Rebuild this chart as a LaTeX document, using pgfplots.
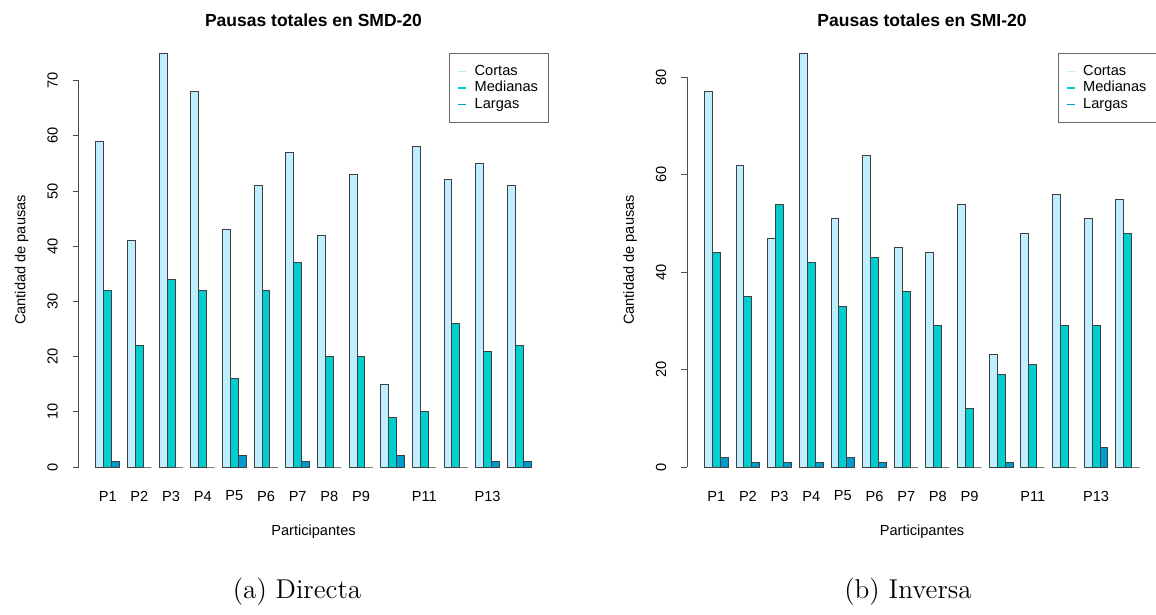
\documentclass[border=0pt]{standalone}
\usepackage{fontspec}
\usepackage{pgfplots}
\usepackage{pgfplotstable}
\pgfplotsset{compat=1.18}
\newfontfamily\rsans{Liberation Sans}
\definecolor{cortas}{RGB}{191,239,255}
\definecolor{medianas}{RGB}{0,205,205}
\definecolor{largas}{RGB}{0,154,205}

\pgfplotstableread{
g c m l
1 59 32 1
2 41 22 0
3 75 34 0
4 68 32 0
5 43 16 2
6 51 32 0
7 57 37 1
8 42 20 0
9 53 20 0
10 15 9 2
11 58 10 0
12 52 26 0
13 55 21 1
14 51 22 1
}\directa

\pgfplotstableread{
g c m l
1 77 44 2
2 62 35 1
3 47 54 1
4 85 42 1
5 51 33 2
6 64 43 1
7 45 36 0
8 44 29 0
9 54 12 0
10 23 19 1
11 48 21 0
12 56 29 0
13 51 29 4
14 55 48 0
}\inversa

\newcommand\rfont{\rsans\fontsize{7.3}{8.5}\selectfont}

\pgfplotsset{
  rbase/.style={
    anchor=south west,
    scale only axis, width=235pt, height=207pt,
    xmin=-1.2, xmax=58.2, ymin=0,
    enlargelimits=false,
    clip=false,
    axis lines*=left,
    axis line style={draw=none},
    tick align=outside,
    major tick length=3pt,
    xtick style={draw=none},
    ytick style={draw=black!70, line width=0.5pt},
    xtick={2.5,6.5,10.5,14.5,18.5,22.5,26.5,30.5,34.5,42.5,50.5},
    xticklabels={P1,P2,P3,P4,P5,P6,P7,P8,P9,P11,P13},
    tick label style={font=\rfont},
    /pgf/number format/assume math mode=true,
    xticklabel style={anchor=center, yshift=-11.5pt},
    yticklabel style={rotate=90, anchor=center, yshift=10pt},
    xlabel={Participantes},
    ylabel={Cantidad de pausas},
    every axis x label/.style={at={(axis description cs:0.5,0)}, anchor=center, yshift=-32.5pt, font=\rfont},
    every axis y label/.style={at={(axis description cs:0,0.5)}, anchor=center, rotate=90, yshift=28.5pt, font=\rfont},
    every axis title/.style={at={(axis description cs:0.5,1)}, anchor=center, yshift=16.5pt, font=\rsans\bfseries\fontsize{8.75}{10}\selectfont},
    every axis plot/.append style={ybar, bar width=1, bar shift=0pt, draw=black!75, line width=0.5pt},
    legend style={at={(1,1)}, anchor=north east, draw=black!60, line width=0.5pt, fill=white,
      font=\rfont, inner xsep=4pt, inner ysep=4.9pt, row sep=0pt,
      nodes={inner ysep=0.6pt, inner xsep=1pt, text height=5.5pt, text depth=1.5pt}},
    /tikz/every odd column/.append style={column sep=3pt},
    legend cell align=left,
  }
}

\begin{document}
\begin{tikzpicture}
\useasboundingbox (0,0) rectangle (578pt,-307.5pt);
\clip (0,0) rectangle (578pt,-307.5pt);

\begin{axis}[rbase, at={(39.25pt,-233.5pt)}, ymax=75, ytick={0,10,...,70},
  title={Pausas totales en SMD-20}]
\addplot[fill=cortas, legend image code/.code={\draw[cortas, line width=0.6pt] (0pt,0pt) -- (4pt,0pt);}]
  table[x expr=4*\thisrow{g}-2.5, y=c] {\directa};
\addplot[fill=medianas, legend image code/.code={\draw[medianas, line width=0.6pt] (0pt,0pt) -- (4pt,0pt);}]
  table[x expr=4*\thisrow{g}-1.5, y=m] {\directa};
\addplot[fill=largas, legend image code/.code={\draw[largas, line width=0.6pt] (0pt,0pt) -- (4pt,0pt);}]
  table[x expr=4*\thisrow{g}-0.5, y=l] {\directa};
\legend{Cortas,Medianas,Largas}
\draw[black!70, line width=0.5pt] (axis cs:-1.2,0) -- (axis cs:-1.2,70);
\end{axis}

\begin{axis}[rbase, at={(343.5pt,-233.5pt)}, ymax=85, ytick={0,20,...,80},
  title={Pausas totales en SMI-20}]
\addplot[fill=cortas, legend image code/.code={\draw[cortas, line width=0.6pt] (0pt,0pt) -- (4pt,0pt);}]
  table[x expr=4*\thisrow{g}-2.5, y=c] {\inversa};
\addplot[fill=medianas, legend image code/.code={\draw[medianas, line width=0.6pt] (0pt,0pt) -- (4pt,0pt);}]
  table[x expr=4*\thisrow{g}-1.5, y=m] {\inversa};
\addplot[fill=largas, legend image code/.code={\draw[largas, line width=0.6pt] (0pt,0pt) -- (4pt,0pt);}]
  table[x expr=4*\thisrow{g}-0.5, y=l] {\inversa};
\legend{Cortas,Medianas,Largas}
\draw[black!70, line width=0.5pt] (axis cs:-1.2,0) -- (axis cs:-1.2,80);
\end{axis}

\node[font=\fontsize{13.6}{16}\selectfont, anchor=center] at (148.5pt,-296pt) {(a) Directa};
\node[font=\fontsize{13.6}{16}\selectfont, anchor=center] at (454pt,-296pt) {(b) Inversa};
\end{tikzpicture}
\end{document}
